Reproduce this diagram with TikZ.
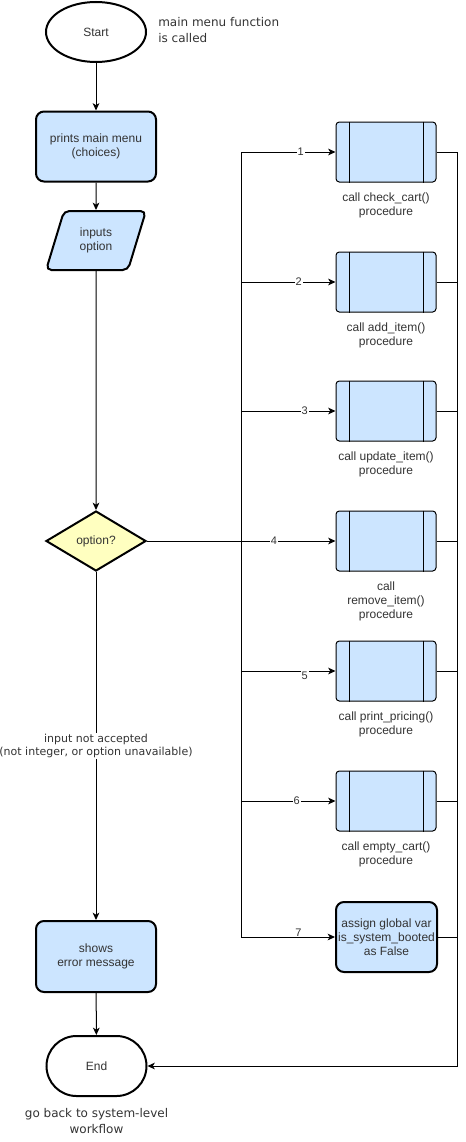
\documentclass[tikz,border=0pt]{standalone}
\usepackage{fontspec}
\setmainfont{Liberation Sans}
\newfontfamily\notefont{DejaVu Sans}
\usetikzlibrary{shapes.geometric,arrows.meta}

\definecolor{boxblue}{HTML}{CCE5FF}
\definecolor{decyellow}{HTML}{FFFFC0}
\definecolor{txt}{HTML}{333333}

\tikzset{
  boxtext/.style={font=\fontsize{9pt}{10.5pt}\selectfont, align=center, text=txt},
  notetext/.style={font=\notefont\fontsize{9pt}{12pt}\selectfont, text=txt},
  edgenote/.style={font=\notefont\fontsize{8.25pt}{9.75pt}\selectfont, text=txt, align=center,
    fill=white, inner sep=1pt},
  numlab/.style={font=\fontsize{8.25pt}{9pt}\selectfont, text=txt, fill=white, inner sep=0.6pt},
  flow/.style={line width=0.75pt, draw=black},
  arr/.style={flow, -{Stealth[length=5.5pt,width=5pt,inset=1.5pt]}},
  terminal/.style={boxtext, draw=black, line width=1.5pt, fill=white, inner sep=0pt,
    minimum width=75pt, minimum height=45pt},
  procbox/.style={boxtext, rectangle, rounded corners=6pt, draw=black, line width=1.5pt,
    fill=boxblue, inner sep=0pt, minimum width=90pt, minimum height=52.5pt},
  iobox/.style={boxtext, trapezium, trapezium left angle=70, trapezium right angle=110,
    trapezium stretches=true, rounded corners=4pt, draw=black, line width=1.5pt,
    fill=boxblue, inner sep=0pt, minimum width=75pt, minimum height=44.25pt},
  decision/.style={boxtext, diamond, draw=black, line width=1.5pt, fill=decyellow,
    inner sep=0pt, minimum width=75pt, minimum height=45pt},
  subbox/.style={boxtext, rectangle, rounded corners=2.5pt, draw=black, line width=0.75pt,
    fill=boxblue, inner sep=0pt, minimum width=75pt, minimum height=45pt},
  assignbox/.style={boxtext, rectangle, rounded corners=6pt, draw=black, line width=1.5pt,
    fill=boxblue, inner sep=0pt, minimum width=75.75pt, minimum height=52.5pt},
}

\begin{document}
\begin{tikzpicture}[x=0.75pt,y=-0.75pt]
  \useasboundingbox (0,0) rectangle (465,1142);

  % main column
  \node[terminal, ellipse] (start) at (96,32) {Start};
  \node[notetext, anchor=west, align=left, inner sep=0pt] (startnote) at (158,30) {main menu function\\is called};
  \node[procbox] (menu) at (96,146.5) {prints main menu\\(choices)};
  \node[iobox] (inp) at (96,240.5) {inputs\\option};
  \node[decision] (dec) at (96,541) {option?};
  \node[procbox, minimum height=53.25pt] (err) at (96,956.5) {shows\\error message};
  \node[terminal, rectangle, rounded corners=22.5pt] (end) at (96.5,1066) {End};
  \node[notetext, align=center] (endnote) at (96.5,1121) {go back to system-level\\workflow};

  % procedure calls
  \foreach \n/\y/\t in {
      1/152/{call check\_cart()\\procedure},
      2/282/{call add\_item()\\procedure},
      3/411/{call update\_item()\\procedure},
      4/541/{call\\remove\_item()\\procedure},
      5/671/{call print\_pricing()\\procedure},
      6/801/{call empty\_cart()\\procedure}} {
    \node[subbox, label={[boxtext, anchor=north, yshift=-4.5pt]below:\t}] (p\n) at (386,\y) {};
    \draw[line width=0.75pt] ([xshift=10.5pt]p\n.north west) -- ([xshift=10.5pt]p\n.south west);
    \draw[line width=0.75pt] ([xshift=-10pt]p\n.north east) -- ([xshift=-10pt]p\n.south east);
  }
  \node[assignbox] (p7) at (386.5,937) {assign global var\\is\_system\_booted\\as False};

  % connectors of the main column
  \draw[arr] (start) -- (menu);
  \draw[arr] (menu) -- (inp);
  \draw[arr] (inp.south) -- (dec.north);
  \draw[arr] (dec.south) -- (err.north)
    node[pos=0.5, edgenote] {input not accepted\\(not integer, or option unavailable)};
  \draw[arr] (err) -- (end);

  % branches of the decision
  \coordinate (trunk) at (241,541);
  \coordinate (rail) at (457,1066);
  \draw[arr] (dec.east) -- (p4.west) node[numlab, pos=0.674] {4};
  \foreach \n/\p/\dy in {1/0.816/0, 2/0.805/0, 3/0.837/0, 5/0.837/-3.5, 6/0.795/0, 7/0.805/3.5}
    \draw[arr] (trunk) |- (p\n.west) node[numlab, pos=\p, yshift=\dy pt] {\n};

  % returns to the end
  \draw[arr] (p1.east) -| (rail) -- (end.east);
  \foreach \n in {2,...,7}
    \draw[flow] (p\n.east) -- (p\n.east -| rail);
\end{tikzpicture}
\end{document}
